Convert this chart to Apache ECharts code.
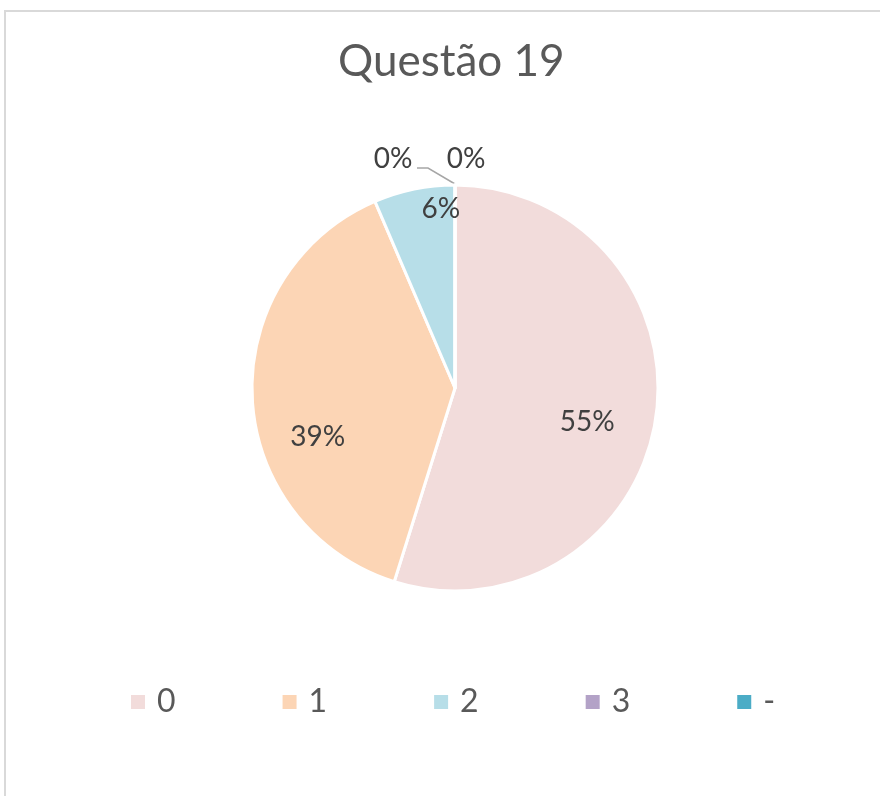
<!DOCTYPE html>
<html lang="pt">
<head>
    <meta charset="UTF-8">
    <title>Questão 19</title>
    <script src="https://cdn.jsdelivr.net/npm/echarts@6.0.0/dist/echarts.min.js"></script>
    <style>
        body { margin: 0; background: #fff; }
        #frame {
            position: absolute; left: 4px; top: 10px;
            width: 900px; height: 900px;
            border: 2px solid #d9d9d9;
        }
        #main { position: absolute; left: 0; top: 0; width: 880px; height: 796px; }
    </style>
</head>
<body>
    <div id="frame"></div>
    <div id="main"></div>
    <script type="text/javascript">
        // respostas da questão 19
        const categorias = ['0', '1', '2', '3', '-'];
        const valores = [17, 12, 2, 0, 0];
        const cores = ['#f2dcdb', '#fcd5b5', '#b7dee8', '#b3a2c7', '#4bacc6'];

        const total = valores.reduce((a, b) => a + b, 0);
        const centro = [455, 388];
        const raio = 203;

        const dados = categorias.map((c, i) => {
            const zero = valores[i] === 0;
            return {
                name: c,
                value: valores[i],
                itemStyle: { color: cores[i] },
                label: { position: zero ? 'outside' : 'inside' },
                labelLine: { show: i === 3 }
            };
        });

        // ajuste dos rótulos para ficar parecido com o Excel
        function posRotulo(p) {
            const i = p.dataIndex;
            if (i === 0) return { dx: 29, dy: 18 };
            if (i === 1) return { dx: -33, dy: 44 };
            if (i === 2) return { dx: 7, dy: -77 };
            const topoPizza = centro[1] - raio;
            const y = topoPizza - 26;
            if (i === 3) {
                return {
                    x: centro[0] - 62, y: y, align: 'center', verticalAlign: 'middle',
                    labelLinePoints: [
                        [centro[0], topoPizza - 1],
                        [centro[0] - 27, topoPizza - 17],
                        [centro[0] - 38, topoPizza - 17]
                    ]
                };
            }
            return { x: centro[0] + 11, y: y, align: 'center', verticalAlign: 'middle' };
        }

        var grafico = echarts.init(document.getElementById('main'));
        var option = {
            animation: false,
            title: {
                text: 'Questão 19',
                left: 333,
                top: 35,
                textStyle: { fontFamily: 'Lato', fontSize: 44, fontWeight: 'normal', color: '#595959' }
            },
            legend: {
                top: 686,
                left: 129,
                padding: 0,
                icon: 'rect',
                itemWidth: 16,
                itemHeight: 16,
                itemGap: 105,
                textStyle: { fontFamily: 'Lato', fontSize: 32, color: '#595959', padding: [0, 0, 0, 6] },
                data: categorias
            },
            series: [{
                type: 'pie',
                center: centro,
                radius: raio,
                startAngle: 90,
                clockwise: true,
                itemStyle: { borderColor: '#fff', borderWidth: 3 },
                label: {
                    fontFamily: 'Lato',
                    fontSize: 28,
                    color: '#404040',
                    formatter: p => Math.round(p.value / total * 100) + '%'
                },
                labelLine: { length: 15, length2: 10, lineStyle: { color: '#a6a6a6', width: 1.5 } },
                labelLayout: posRotulo,
                data: dados
            }]
        };
        grafico.setOption(option);
    </script>
</body>
</html>
